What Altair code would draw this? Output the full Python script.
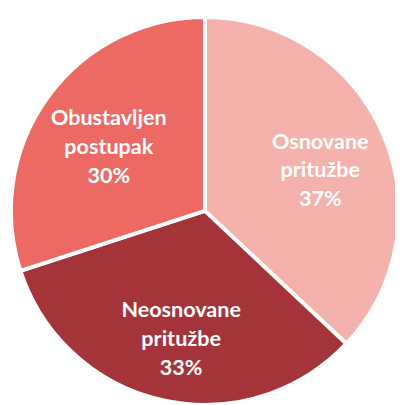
import altair as alt
import pandas as pd

categories = ["Osnovane\npritužbe", "Neosnovane\npritužbe", "Obustavljen\npostupak"]
values = [37, 33, 30]
colors = ["#F5B1AB", "#A5333A", "#EC6964"]

df = pd.DataFrame({
    "cat": categories,
    "val": values,
    "idx": list(range(len(categories))),
})
df["label"] = df["cat"] + "\n" + df["val"].astype(str) + "%"

base = alt.Chart(df).encode(
    theta=alt.Theta("val:Q", stack=True),
    order=alt.Order("idx:O"),
)

pie = base.mark_arc(outerRadius=198, stroke="white", strokeWidth=4, x=201, y=203).encode(
    color=alt.Color("cat:N", scale=alt.Scale(domain=categories, range=colors), legend=None),
)

text = base.mark_text(
    radius=125, x=201, y=203, dx=3, dy=-21, font="Lato", fontSize=22, fontWeight="bold",
    color="white", lineBreak="\n", lineHeight=29.5, align="center", baseline="middle",
).encode(text="label:N")

chart = alt.layer(pie, text).properties(
    width=395, height=397, padding=0, autosize=alt.AutoSizeParams(type="none"),
).configure_view(stroke=None)

chart.save("out.html", embed_options={"renderer": "svg", "actions": False})
